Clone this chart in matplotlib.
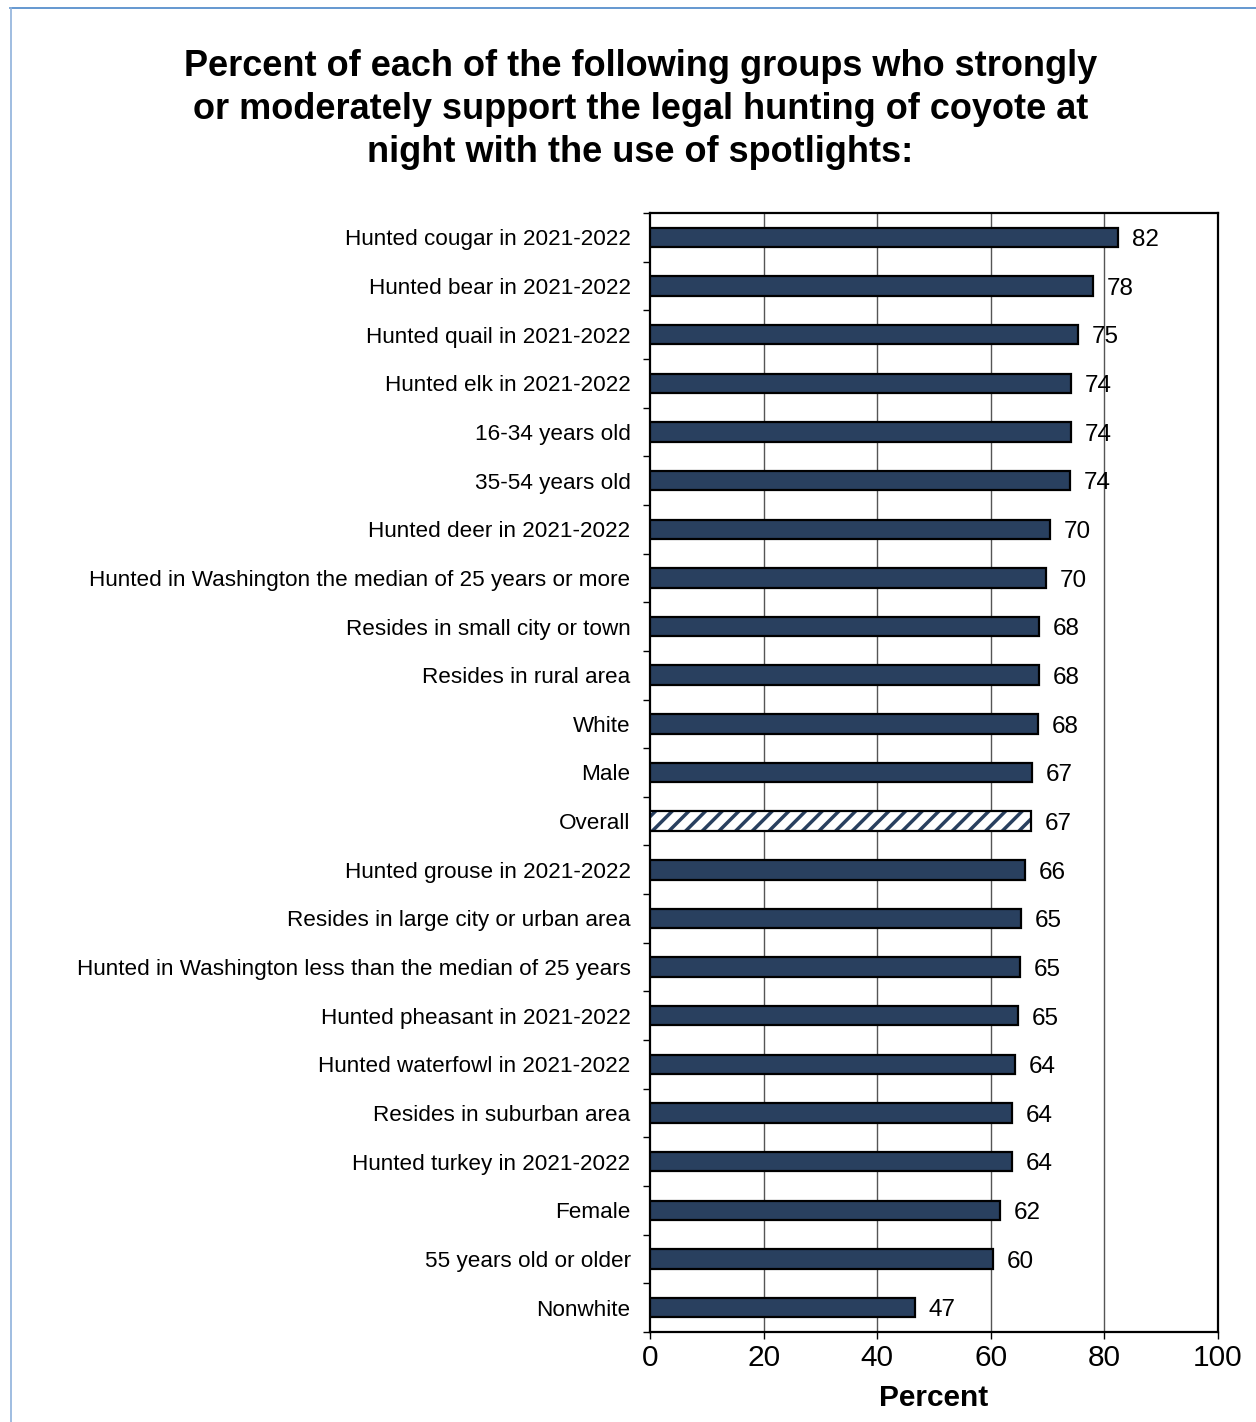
import matplotlib.pyplot as plt
from matplotlib.lines import Line2D

plt.rcParams['font.family'] = ['Liberation Sans', 'DejaVu Sans']
plt.rcParams['hatch.linewidth'] = 2.5

# -- Groups, top to bottom, and percent who support spotlight hunting of coyote
groups = [
    'Hunted cougar in 2021-2022',
    'Hunted bear in 2021-2022',
    'Hunted quail in 2021-2022',
    'Hunted elk in 2021-2022',
    '16-34 years old',
    '35-54 years old',
    'Hunted deer in 2021-2022',
    'Hunted in Washington the median of 25 years or more',
    'Resides in small city or town',
    'Resides in rural area',
    'White',
    'Male',
    'Overall',
    'Hunted grouse in 2021-2022',
    'Resides in large city or urban area',
    'Hunted in Washington less than the median of 25 years',
    'Hunted pheasant in 2021-2022',
    'Hunted waterfowl in 2021-2022',
    'Resides in suburban area',
    'Hunted turkey in 2021-2022',
    'Female',
    '55 years old or older',
    'Nonwhite',
]
percents = [82.4, 78.0, 75.4, 74.1, 74.1, 73.9, 70.4, 69.7, 68.5, 68.5, 68.3, 67.3,
            67.1, 66.0, 65.3, 65.1, 64.8, 64.3, 63.7, 63.7, 61.6, 60.4, 46.6]
highlight = 'Overall'

navy = '#29405F'

fig = plt.figure(figsize=(12.56, 14.22), dpi=100)
ax = fig.add_axes([650 / 1256, 1 - 1332 / 1422, 568 / 1256, 1119 / 1422])

ypos = list(range(len(groups)))
for y, name, val in zip(ypos, groups, percents):
    if name == highlight:
        # -- hatched bar, then a black outline on top
        ax.barh(y, val, height=0.4, color='white', edgecolor=navy, hatch='//',
                linewidth=0, zorder=3)
        ax.barh(y, val, height=0.4, fill=False, edgecolor='black', linewidth=1.6, zorder=4)
    else:
        ax.barh(y, val, height=0.4, color=navy, edgecolor='black', linewidth=1.6, zorder=3)
    ax.annotate(f'{val:.0f}', xy=(val, y), xytext=(10, -2), textcoords='offset points',
                ha='left', va='center', fontsize=17.5, zorder=2)

ax.set_xlim(0, 100)
ax.set_ylim(len(groups) - 0.5, -0.5)
ax.set_xticks([0, 20, 40, 60, 80, 100])
ax.tick_params(axis='x', labelsize=21.5, length=5, width=1, direction='out', pad=4)
ax.set_yticks(ypos)
ax.set_yticklabels(groups, fontsize=16.2)
ax.set_yticks([i - 0.5 for i in range(len(groups) + 1)], minor=True)
ax.tick_params(axis='y', which='major', length=0, pad=14)
ax.tick_params(axis='y', which='minor', length=5, width=1, direction='out')
ax.set_xlabel('Percent', fontsize=21.5, fontweight='bold', labelpad=8)

for x in [20, 40, 60, 80]:
    ax.axvline(x, color='#555555', linewidth=1, zorder=1)
for side in ax.spines.values():
    side.set_linewidth(1.6)

fig.text(0.51, 1 - 49 / 1422,
         'Percent of each of the following groups who strongly\n'
         'or moderately support the legal hunting of coyote at\n'
         'night with the use of spotlights:',
         ha='center', va='top', fontsize=26, fontweight='bold', linespacing=1.3)

# -- frame lines around the chart area
fig.add_artist(Line2D([10 / 1256, 1], [1 - 8 / 1422, 1 - 8 / 1422],
                      color='#4A86C8', linewidth=1.2))
fig.add_artist(Line2D([10.5 / 1256, 10.5 / 1256], [0, 1 - 8 / 1422],
                      color='#8FB1DC', linewidth=1.2))

fig.savefig('out.png', dpi=100)
